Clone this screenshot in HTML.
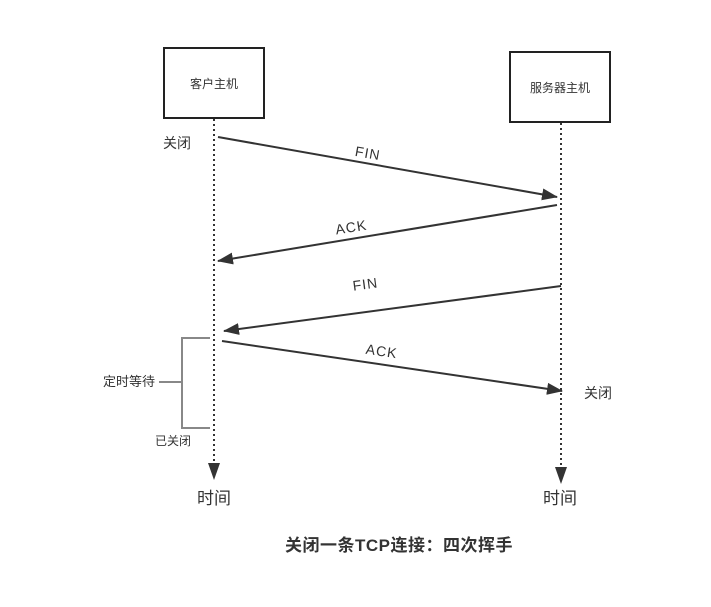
<!DOCTYPE html>
<html><head><meta charset="utf-8"><style>
body{margin:0;background:#fff}
svg text{font-family:"Liberation Sans","Noto Sans CJK SC",sans-serif;fill:#333}
</style></head><body>
<svg width="711" height="602" viewBox="0 0 711 602" xmlns="http://www.w3.org/2000/svg">
<defs><marker id="a" markerWidth="16" markerHeight="12" refX="15" refY="6" orient="auto" markerUnits="userSpaceOnUse"><path d="M0,0 L16,6 L0,12 Z" fill="#333"/></marker></defs>
<rect x="164" y="48" width="100" height="70" fill="#fff" stroke="#222" stroke-width="2"/>
<rect x="510" y="52" width="100" height="70" fill="#fff" stroke="#222" stroke-width="2"/>
<text x="214" y="88" font-size="12" text-anchor="middle">客户主机</text>
<text x="560" y="92" font-size="12" text-anchor="middle">服务器主机</text>
<line x1="214" y1="119" x2="214" y2="468" stroke="#333" stroke-width="2" stroke-dasharray="2,3"/>
<line x1="561" y1="123" x2="561" y2="470" stroke="#333" stroke-width="2" stroke-dasharray="2,3"/>
<path d="M208,463 L220,463 L214,480 Z" fill="#333"/>
<path d="M555,467 L567,467 L561,484 Z" fill="#333"/>
<g stroke="#333" stroke-width="2" fill="none" marker-end="url(#a)">
<line x1="218" y1="137" x2="557" y2="197"/>
<line x1="557" y1="205" x2="218" y2="261"/>
<line x1="561" y1="286" x2="224" y2="331"/>
<line x1="222" y1="341" x2="562" y2="391"/>
</g>
<text font-size="14" text-anchor="middle" transform="translate(367,158) rotate(10)" letter-spacing="1">FIN</text>
<text font-size="14" text-anchor="middle" transform="translate(352,232) rotate(-9)" letter-spacing="1">ACK</text>
<text font-size="14" text-anchor="middle" transform="translate(366,289) rotate(-7.6)" letter-spacing="1">FIN</text>
<text font-size="14" text-anchor="middle" transform="translate(381,356) rotate(8.4)" letter-spacing="1">ACK</text>
<text x="163" y="148" font-size="14">关闭</text>
<text x="584" y="398" font-size="14">关闭</text>
<path d="M210,338 H182 V428 H210 M159,382 H182" stroke="#888" stroke-width="2" fill="none"/>
<text x="155" y="386" font-size="13" text-anchor="end">定时等待</text>
<text x="155" y="445" font-size="12">已关闭</text>
<text x="214" y="504" font-size="17" text-anchor="middle">时间</text>
<text x="560" y="504" font-size="17" text-anchor="middle">时间</text>
<text x="399" y="551" font-size="17" font-weight="bold" text-anchor="middle" letter-spacing="0.5">关闭一条TCP连接：四次挥手</text>
</svg>
</body></html>
